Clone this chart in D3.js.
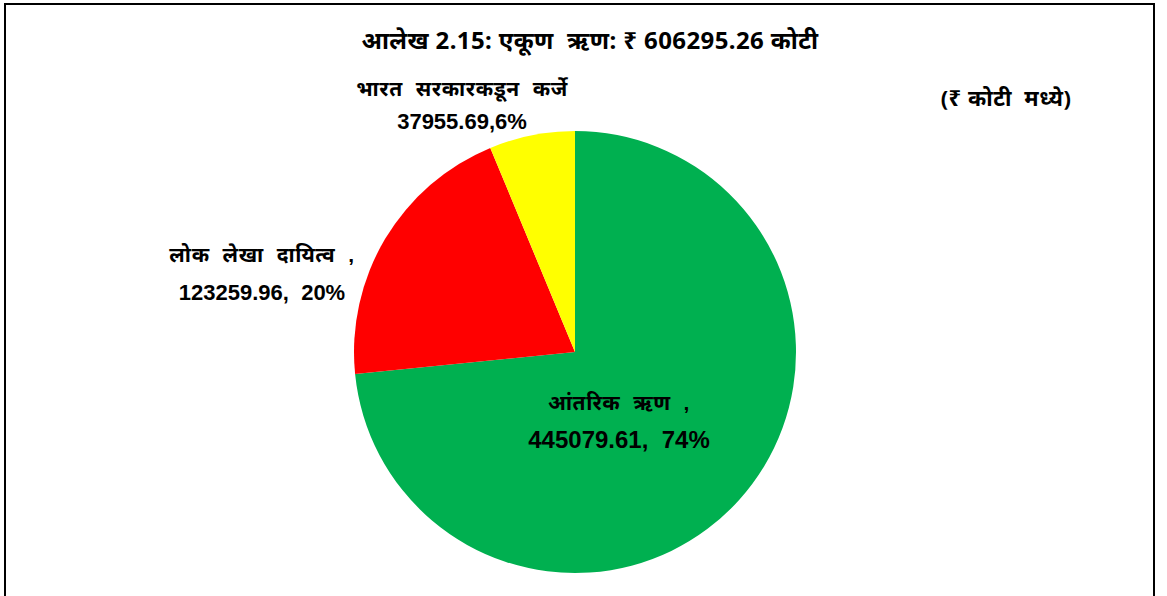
<!DOCTYPE html>
<html>
<head>
<meta charset="utf-8">
<script src="https://cdn.jsdelivr.net/npm/d3@7"></script>
<style>
  body { margin: 0; background: #fff; }
  svg text { font-weight: bold; fill: #000; white-space: pre; }
</style>
</head>
<body>
<div id="chart"></div>
<script>
// data
const categories = ["आंतरिक ऋण", "लोक लेखा दायित्व", "भारत सरकारकडून कर्जे"];
const values = [445079.61, 123259.96, 37955.69];
const percents = ["74%", "20%", "6%"];
const colors = ["#00b050", "#ff0000", "#ffff00"];

const width = 1167;
const height = 596;

const svg = d3.select("#chart")
    .append("svg")
    .attr("width", width)
    .attr("height", height);

// outer frame
svg.append("rect")
    .attr("x", 5)
    .attr("y", 4)
    .attr("width", 1149)
    .attr("height", 620)
    .attr("fill", "none")
    .attr("stroke", "#000")
    .attr("stroke-width", 2);

svg.append("text")
    .attr("x", 590)
    .attr("y", 49)
    .attr("text-anchor", "middle")
    .style("font-family", "'Noto Sans', 'Noto Sans Devanagari', sans-serif")
    .style("font-size", "24px")
    .style("letter-spacing", "0.4px")
    .text("आलेख 2.15: एकूण  ऋण: ₹ 606295.26 कोटी");

svg.append("text")
    .attr("x", 1006)
    .attr("y", 106)
    .attr("text-anchor", "middle")
    .style("font-family", "'Noto Sans', 'Noto Sans Devanagari', sans-serif")
    .style("font-size", "22px")
    .style("letter-spacing", "0.5px")
    .text("(₹ कोटी  मध्ये)");

const cx = 575, cy = 352, r = 221;

const pie = d3.pie().sort(null).value(d => d);
const arc = d3.arc().innerRadius(0).outerRadius(r);

const g = svg.append("g").attr("transform", `translate(${cx},${cy})`);

g.selectAll("path")
    .data(pie(values))
    .enter()
    .append("path")
    .attr("d", arc)
    .attr("fill", (d, i) => colors[i]);

// label anchors: centre x and first baseline, page coords
const labelPos = [[619, 410], [262, 262], [462, 96]];
const labelLines = [
    [categories[0].replace(" ", "  ") + "  ,", values[0].toFixed(2) + ",  " + percents[0]],
    [categories[1].replace(/ /g, "  ") + "  ,", values[1].toFixed(2) + ",  " + percents[1]],
    [categories[2].replace(/ /g, "  "), values[2].toFixed(2) + "," + percents[2]]
];
const lineGap = [38, 38, 33];
const numSize = [24, 22, 22];

labelLines.forEach((lines, i) => {
    const t = svg.append("text")
        .attr("text-anchor", "middle")
        .style("font-family", "'Liberation Sans', Arial, 'Noto Sans Devanagari', sans-serif")
        .style("font-size", "21px");
    t.append("tspan")
        .attr("x", labelPos[i][0])
        .attr("y", labelPos[i][1])
        .style("letter-spacing", "0.6px")
        .text(lines[0]);
    t.append("tspan")
        .attr("x", labelPos[i][0])
        .attr("y", labelPos[i][1] + lineGap[i])
        .style("font-size", numSize[i] + "px")
        .text(lines[1]);
});
</script>
</body>
</html>
